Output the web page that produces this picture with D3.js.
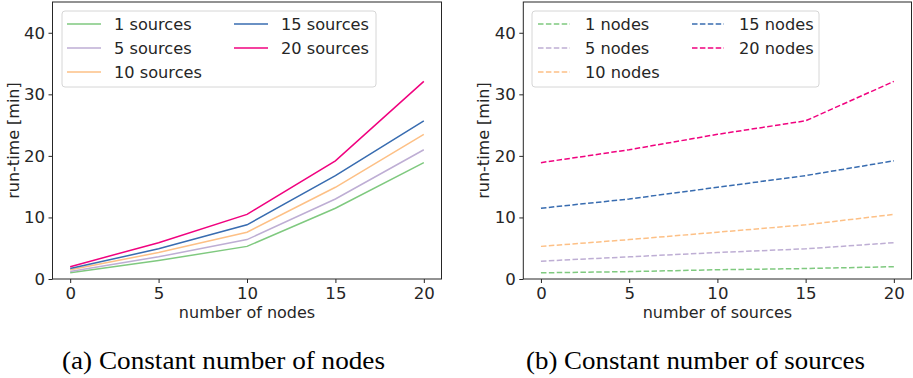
<!DOCTYPE html>
<html>
<head>
<meta charset="utf-8">
<script src="https://cdn.jsdelivr.net/npm/d3@7"></script>
<style>
    body { margin: 0; background: #fff; }
    svg text { font-family: "DejaVu Sans", sans-serif; fill: #262626; }
    .caption { font-family: "Liberation Serif", "DejaVu Serif", serif; fill: #000; }
</style>
</head>
<body>
<div id="chart"></div>
<script>

// x values shared by both panels
const xValues = [0, 5, 10, 15, 20];
const yTicks = [0, 10, 20, 30, 40];

// panel (a): run-time vs number of nodes, one line per number of sources
const sourceLabels = ["1 sources", "5 sources", "10 sources", "15 sources", "20 sources"];
const sources1 = [1.0, 3.0, 5.3, 11.5, 18.9];
const sources5 = [1.2, 3.6, 6.4, 13.0, 21.0];
const sources10 = [1.5, 4.3, 7.6, 14.9, 23.5];
const sources15 = [1.7, 4.9, 8.8, 16.8, 25.7];
const sources20 = [2.0, 5.9, 10.5, 19.2, 32.1];

// panel (b): run-time vs number of sources, one line per number of nodes
const nodeLabels = ["1 nodes", "5 nodes", "10 nodes", "15 nodes", "20 nodes"];
const nodes1 = [1.0, 1.2, 1.5, 1.7, 2.0];
const nodes5 = [2.9, 3.6, 4.3, 4.9, 5.9];
const nodes10 = [5.3, 6.4, 7.6, 8.8, 10.5];
const nodes15 = [11.5, 13.0, 14.9, 16.8, 19.2];
const nodes20 = [18.9, 21.0, 23.5, 25.7, 32.1];

// matplotlib "Accent" colours
const colors = ["#7fc97f", "#beaed4", "#fdc086", "#386cb0", "#f0027f"];

const svg = d3.select("#chart").append("svg")
    .attr("width", 913)
    .attr("height", 378);

function drawPanel(opts) {
    let left = opts.left, right = opts.right, top = 2, bottom = 279;

    let x = d3.scaleLinear().domain([-1, 21]).range([left, right]);
    let y = d3.scaleLinear().domain([0, 45]).range([bottom, top]);

    let g = svg.append("g");

    // axes
    let xAxis = d3.axisBottom(x).tickValues(xValues).tickSize(4).tickPadding(4);
    let yAxis = d3.axisLeft(y).tickValues(yTicks).tickSize(4).tickPadding(3.5);

    g.append("g")
        .attr("transform", `translate(0, ${bottom})`)
        .call(xAxis)
        .call(a => a.select(".domain").remove())
        .selectAll("text").attr("font-size", "16.6px").attr("fill", "#262626");

    g.append("g")
        .attr("transform", `translate(${left}, 0)`)
        .call(yAxis)
        .call(a => a.select(".domain").remove())
        .selectAll("text").attr("font-size", "16.6px").attr("fill", "#262626");

    g.selectAll(".tick line").attr("stroke", "#262626").attr("stroke-width", 1);

    // lines
    let line = d3.line()
        .x((d, i) => x(xValues[i]))
        .y(d => y(d));

    g.selectAll(".series")
        .data(opts.series)
        .enter().append("path")
        .attr("class", "series")
        .attr("d", d => line(d))
        .attr("fill", "none")
        .attr("stroke", (d, i) => colors[i])
        .attr("stroke-width", 1.5)
        .attr("stroke-dasharray", opts.dash);

    // frame
    g.append("rect")
        .attr("x", left)
        .attr("y", top)
        .attr("width", right - left)
        .attr("height", bottom - top)
        .attr("fill", "none")
        .attr("stroke", "#262626")
        .attr("stroke-width", 1);

    // axis labels
    g.append("text")
        .attr("x", (x(0) + x(20)) / 2)
        .attr("y", 318)
        .attr("text-anchor", "middle")
        .attr("font-size", "16px")
        .text(opts.xLabel);

    g.append("text")
        .attr("transform", `translate(${opts.yLabelX}, ${(top + bottom) / 2}) rotate(-90)`)
        .attr("text-anchor", "middle")
        .attr("font-size", "16px")
        .text("run-time [min]");

    // legend
    let lg = opts.legend;
    g.append("rect")
        .attr("x", lg.x)
        .attr("y", 11)
        .attr("width", lg.w)
        .attr("height", 76)
        .attr("rx", 3)
        .attr("fill", "#fff")
        .attr("fill-opacity", 0.8)
        .attr("stroke", "#d6d6d6")
        .attr("stroke-width", 1);

    let items = g.selectAll(".legend-item")
        .data(opts.labels)
        .enter().append("g")
        .attr("class", "legend-item")
        .attr("transform", (d, i) => {
            let col = i < 3 ? 0 : 1;
            let row = i < 3 ? i : i - 3;
            return `translate(${lg.cols[col]}, ${24 + row * 24})`;
        });

    items.append("line")
        .attr("x1", 0)
        .attr("x2", lg.handle)
        .attr("stroke", (d, i) => colors[i])
        .attr("stroke-width", 1.5)
        .attr("stroke-dasharray", opts.dash);

    items.append("text")
        .attr("x", lg.textOffset)
        .attr("y", 6)
        .attr("font-size", "16.2px")
        .text(d => d);

    // caption
    svg.append("text")
        .attr("class", "caption")
        .attr("x", opts.caption.x)
        .attr("y", 369)
        .attr("font-size", "26px")
        .attr("textLength", opts.caption.w)
        .attr("lengthAdjust", "spacingAndGlyphs")
        .text(opts.caption.text);
}

drawPanel({
    left: 52.5,
    right: 441.5,
    series: [sources1, sources5, sources10, sources15, sources20],
    labels: sourceLabels,
    dash: null,
    xLabel: "number of nodes",
    yLabelX: 19,
    legend: { x: 62, w: 314, cols: [67, 234], handle: 34, textOffset: 47 },
    caption: { x: 62, w: 323, text: "(a) Constant number of nodes" }
});

drawPanel({
    left: 523.3,
    right: 911.5,
    series: [nodes1, nodes5, nodes10, nodes15, nodes20],
    labels: nodeLabels,
    dash: "5.5,2.4",
    xLabel: "number of sources",
    yLabelX: 489,
    legend: { x: 532, w: 287, cols: [538, 692], handle: 32, textOffset: 47 },
    caption: { x: 526, w: 339, text: "(b) Constant number of sources" }
});

</script>
</body>
</html>
